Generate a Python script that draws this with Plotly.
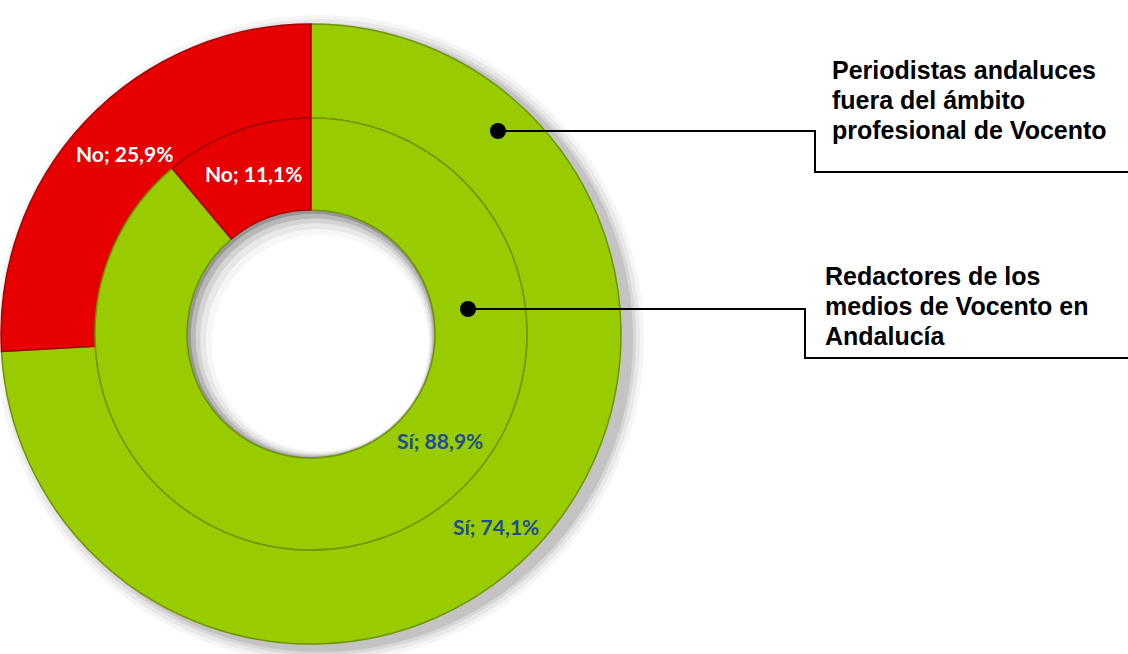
import plotly.graph_objects as go

# ---------------- data ----------------
categories = ["Sí", "No"]
outer_values = [74.1, 25.9]   # Periodistas andaluces fuera del ámbito profesional de Vocento
inner_values = [88.9, 11.1]   # Redactores de los medios de Vocento en Andalucía
outer_name = ["Periodistas andaluces", "fuera del ámbito", "profesional de Vocento"]
inner_name = ["Redactores de los", "medios de Vocento en", "Andalucía"]

# ---------------- layout constants (pixels) ----------------
W, H = 1128, 654
CX, CY = 311, 334          # ring centre
R_OUT, R_MID, R_HOLE = 310, 216, 124
slice_colors = ["#99CC00", "#E60000"]
edge_colors = ["#6F9400", "#A80000"]
label_colors = {"Sí": "#1F4E8F", "No": "#FFFFFF"}


def px(x):
    return x / W


def py(y):
    return 1 - y / H


def dom(r):
    return dict(x=[px(CX - r), px(CX + r)], y=[py(CY + r), py(CY - r)])


fig = go.Figure()

fig.add_trace(go.Pie(
    labels=categories, values=outer_values, hole=R_MID / R_OUT,
    domain=dom(R_OUT), sort=False, direction="clockwise", rotation=0,
    marker=dict(colors=slice_colors, line=dict(color=edge_colors, width=1.5)),
    textinfo="none", hoverinfo="label+value", showlegend=False,
    name="Periodistas andaluces fuera del ámbito profesional de Vocento",
))
fig.add_trace(go.Pie(
    labels=categories, values=inner_values, hole=R_HOLE / R_MID,
    domain=dom(R_MID), sort=False, direction="clockwise", rotation=0,
    marker=dict(colors=slice_colors, line=dict(color=edge_colors, width=1.5)),
    textinfo="none", hoverinfo="label+value", showlegend=False,
    name="Redactores de los medios de Vocento en Andalucía",
))

shapes = []
# soft drop shadow of the whole ring (right / lower side)
for dr, op in [(14, 0.04), (10, 0.05), (6, 0.07), (3, 0.09)]:
    r = R_OUT + dr
    ox, oy = 9, 5
    shapes.append(dict(type="circle", xref="paper", yref="paper", layer="below",
                       x0=px(CX + ox - r), x1=px(CX + ox + r),
                       y0=py(CY + oy + r), y1=py(CY + oy - r),
                       fillcolor=f"rgba(0,0,0,{op})", line=dict(width=0)))
# inner shadow inside the hole
shapes.append(dict(type="circle", xref="paper", yref="paper", layer="below",
                   x0=px(CX - R_HOLE), x1=px(CX + R_HOLE),
                   y0=py(CY + R_HOLE), y1=py(CY - R_HOLE),
                   fillcolor="rgba(150,150,150,1)", line=dict(width=0)))
for dr, col in [(4, "#b8b8b8"), (9, "#d4d4d4"), (14, "#e8e8e8"), (20, "#f6f6f6"), (26, "#ffffff")]:
    r = R_HOLE - dr * 0.6
    ox, oy = dr * 0.35, dr * 0.35
    shapes.append(dict(type="circle", xref="paper", yref="paper", layer="below",
                       x0=px(CX + ox - r), x1=px(CX + ox + r),
                       y0=py(CY + oy + r), y1=py(CY + oy - r),
                       fillcolor=col, line=dict(width=0)))

# callout connectors
callouts = [
    dict(dot=(498, 131), bend_x=815, end_y=172),
    dict(dot=(468, 309), bend_x=805, end_y=358),
]
for c in callouts:
    dx, dy = c["dot"]
    path = (f"M {px(dx)},{py(dy)} L {px(c['bend_x'])},{py(dy)} "
            f"L {px(c['bend_x'])},{py(c['end_y'])} L 1,{py(c['end_y'])}")
    shapes.append(dict(type="path", xref="paper", yref="paper", path=path,
                       line=dict(color="black", width=2)))
    shapes.append(dict(type="circle", xref="paper", yref="paper",
                       x0=px(dx - 8), x1=px(dx + 8), y0=py(dy + 8), y1=py(dy - 8),
                       fillcolor="black", line=dict(width=0)))

annotations = []


def fmt(cat, v):
    return f"{cat}; {v:.1f}%".replace(".", ",")


# data label positions (pixel centres), outer then inner, in category order
outer_label_pos = [(496, 526), (124, 153)]
inner_label_pos = [(440, 441), (253, 174)]
for vals, poss in [(outer_values, outer_label_pos), (inner_values, inner_label_pos)]:
    for cat, v, (lx, ly) in zip(categories, vals, poss):
        annotations.append(dict(
            x=px(lx), y=py(ly), xref="paper", yref="paper", showarrow=False,
            text=f"<b>{fmt(cat, v)}</b>", xanchor="center", yanchor="middle",
            font=dict(family="Lato, 'Open Sans', sans-serif", size=21,
                      color=label_colors[cat])))

# series names next to callouts
for lines, x0, ys in [(outer_name, 830, [70, 100, 130]), (inner_name, 823, [276, 306, 336])]:
    for t, yy in zip(lines, ys):
        annotations.append(dict(
            x=px(x0), y=py(yy), xref="paper", yref="paper", showarrow=False,
            text=f"<b>{t}</b>", xanchor="left", yanchor="middle",
            font=dict(family="Liberation Sans, Arial, sans-serif", size=25, color="black")))

fig.update_layout(
    width=W, height=H, margin=dict(l=0, r=0, t=0, b=0),
    paper_bgcolor="white", plot_bgcolor="white",
    shapes=shapes, annotations=annotations, showlegend=False,
)

fig.write_html("out.html")
